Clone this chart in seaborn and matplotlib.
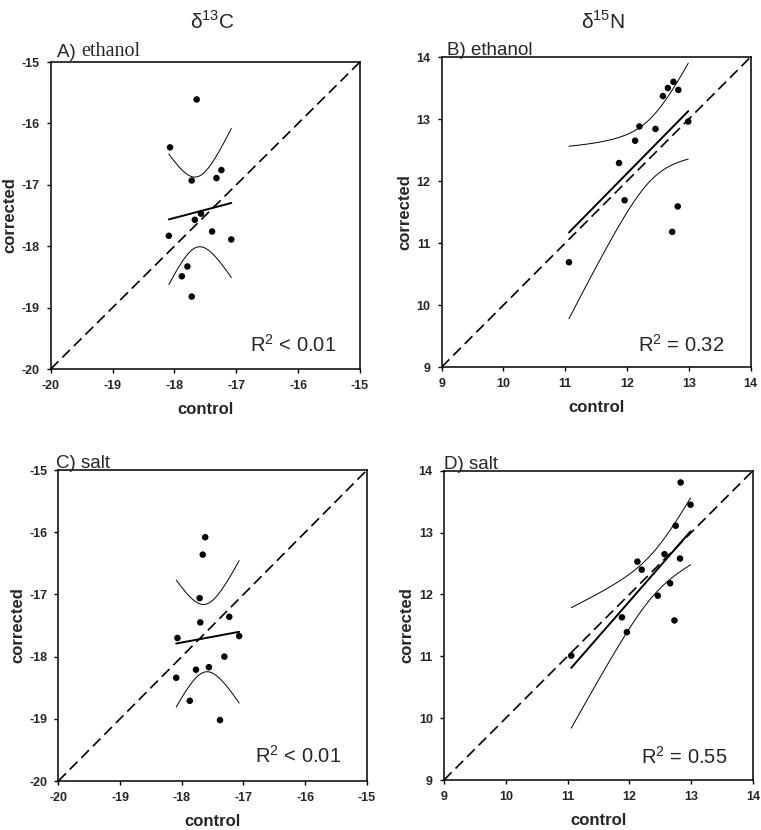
import numpy as np
import pandas as pd
import seaborn as sns
import matplotlib.pyplot as plt

# values
c13_eth_control = [-17.64, -18.07, -17.72, -17.32, -17.24, -17.57, -17.67, -18.09, -17.39, -17.08, -17.79, -17.88, -17.72]
c13_eth_corrected = [-15.61, -16.39, -16.93, -16.89, -16.76, -17.47, -17.57, -17.83, -17.76, -17.89, -18.33, -18.49, -18.82]

n15_eth_control = [11.06, 11.87, 11.96, 12.13, 12.20, 12.46, 12.58, 12.66, 12.75, 12.83, 12.99, 12.82, 12.73]
n15_eth_corrected = [10.69, 12.29, 11.69, 12.65, 12.88, 12.84, 13.37, 13.50, 13.60, 13.47, 12.96, 11.59, 11.18]

c13_salt_control = [-17.62, -17.66, -17.71, -17.70, -17.23, -18.07, -17.07, -17.31, -17.77, -17.56, -18.09, -17.87, -17.38]
c13_salt_corrected = [-16.08, -16.36, -17.06, -17.45, -17.36, -17.70, -17.67, -18.00, -18.21, -18.17, -18.34, -18.71, -19.02]

n15_salt_control = [11.06, 11.88, 11.96, 12.13, 12.20, 12.46, 12.57, 12.66, 12.75, 12.82, 12.83, 12.99, 12.73]
n15_salt_corrected = [11.01, 11.63, 11.39, 12.53, 12.40, 11.98, 12.65, 12.18, 13.11, 12.58, 13.81, 13.45, 11.58]

r2_labels = ['R$^2$ < 0.01', 'R$^2$ = 0.32', 'R$^2$ < 0.01', 'R$^2$ = 0.55']
panel_letters = ['A)', 'B)', 'C)', 'D)']
panel_names = ['ethanol', 'ethanol', 'salt', 'salt']

sns.set_style('ticks')
plt.rcParams['font.family'] = ['Liberation Sans', 'DejaVu Sans']
plt.rcParams['mathtext.fontset'] = 'custom'
plt.rcParams['mathtext.rm'] = 'Liberation Sans'
plt.rcParams['axes.linewidth'] = 1.1

T_CRIT = 2.201  # t(0.975, df=11)


def panel(ax, x, y, lims, ticks, r2, letter, name, serif_name=False,
          r2_pos=(0.92, 0.055), title_x=0.02, title_y=1.01):
    x = np.asarray(x)
    y = np.asarray(y)
    df = pd.DataFrame({'control': x, 'corrected': y})

    ax.plot(lims, lims, color='black', lw=1.2, dashes=(6.5, 3.3), zorder=1)
    sns.scatterplot(data=df, x='control', y='corrected', ax=ax, color='black',
                    s=22, edgecolor='none', zorder=3)
    sns.regplot(data=df, x='control', y='corrected', ax=ax, scatter=False,
                ci=None, truncate=True, color='black', line_kws={'lw': 1.4})

    # 95% confidence band of the regression line
    n = len(x)
    slope, icpt = np.polyfit(x, y, 1)
    resid = y - (slope * x + icpt)
    s = np.sqrt(np.sum(resid ** 2) / (n - 2))
    sxx = np.sum((x - x.mean()) ** 2)
    xs = np.linspace(x.min(), x.max(), 100)
    yh = slope * xs + icpt
    half = T_CRIT * s * np.sqrt(1 / n + (xs - x.mean()) ** 2 / sxx)
    ax.plot(xs, yh + half, color='black', lw=0.7)
    ax.plot(xs, yh - half, color='black', lw=0.7)

    ax.set_xlim(lims)
    ax.set_ylim(lims)
    ax.set_xticks(ticks)
    ax.set_yticks(ticks)
    ax.set_xticklabels([str(t) for t in ticks], fontweight='bold', fontsize=9)
    ax.set_yticklabels([str(t) for t in ticks], fontweight='bold', fontsize=9)
    ax.tick_params(direction='out', length=3, width=1.0, pad=5, color='black')
    for sp in ax.spines.values():
        sp.set_visible(True)
        sp.set_color('black')
    ax.set_xlabel('control', fontweight='bold', fontsize=12, labelpad=7)
    ax.set_ylabel('corrected', fontweight='bold', fontsize=12, labelpad=3)

    ax.text(r2_pos[0], r2_pos[1], r2, transform=ax.transAxes, ha='right',
            va='baseline', fontsize=14.5)
    if serif_name:
        t = ax.text(title_x, title_y, letter + ' ', transform=ax.transAxes,
                    ha='left', va='baseline', fontsize=13.5)
        ax.annotate(name, xy=(1, 0), xycoords=t, ha='left', va='bottom',
                    fontsize=14.5, family=['Liberation Serif', 'DejaVu Serif'])
    else:
        ax.text(title_x, title_y, letter + ' ' + name, transform=ax.transAxes,
                ha='left', va='baseline', fontsize=13.5)


fig = plt.figure(figsize=(7.61, 8.30), dpi=100)
axA = fig.add_axes([0.0666, 0.5554, 0.4064, 0.3699])
axB = fig.add_axes([0.5804, 0.5578, 0.4060, 0.3735])
axC = fig.add_axes([0.0766, 0.0590, 0.4056, 0.3747])
axD = fig.add_axes([0.5834, 0.0602, 0.4060, 0.3727])

c_lims, c_ticks = (-20, -15), [-20, -19, -18, -17, -16, -15]
n_lims, n_ticks = (9, 14), [9, 10, 11, 12, 13, 14]

panel(axA, c13_eth_control, c13_eth_corrected, c_lims, c_ticks, r2_labels[0],
      panel_letters[0], panel_names[0], serif_name=True,
      r2_pos=(0.922, 0.056), title_x=0.02, title_y=1.016)
panel(axB, n15_eth_control, n15_eth_corrected, n_lims, n_ticks, r2_labels[1],
      panel_letters[1], panel_names[1], r2_pos=(0.914, 0.049),
      title_x=0.017, title_y=1.008)
panel(axC, c13_salt_control, c13_salt_corrected, c_lims, c_ticks, r2_labels[2],
      panel_letters[2], panel_names[2], r2_pos=(0.915, 0.059),
      title_x=-0.008, title_y=1.006)
panel(axD, n15_salt_control, n15_salt_corrected, n_lims, n_ticks, r2_labels[3],
      panel_letters[3], panel_names[3], r2_pos=(0.918, 0.054),
      title_x=0.0, title_y=1.005)

fig.text(212 / 761, 1 - 22 / 830, 'δ$^{13}$C', ha='center', va='center', fontsize=15)
fig.text(603 / 761, 1 - 22 / 830, 'δ$^{15}$N', ha='center', va='center', fontsize=15)

fig.savefig('out.png', dpi=100)
